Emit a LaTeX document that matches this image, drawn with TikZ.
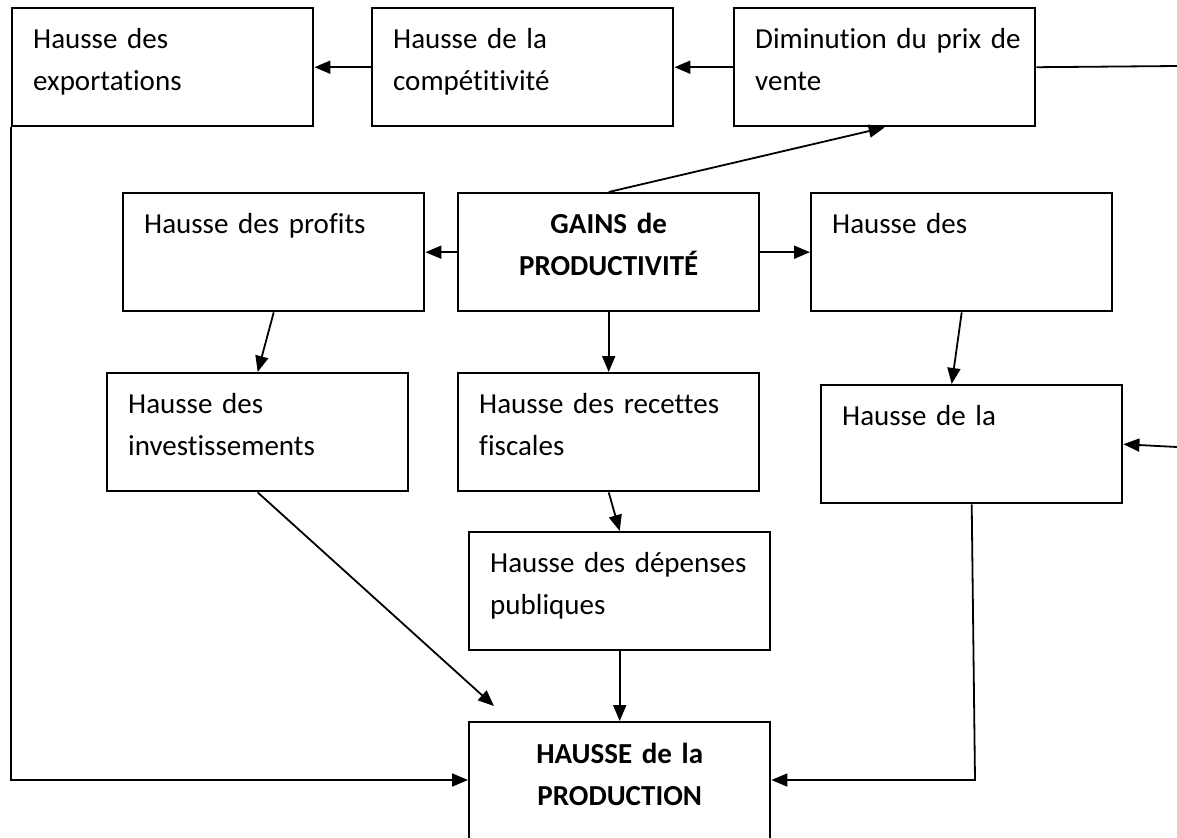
\documentclass[tikz,border=0pt]{standalone}
\usepackage{fontspec}
\setmainfont{Carlito}[Ligatures=NoCommon]
\usetikzlibrary{arrows.meta}

\begin{document}
\begin{tikzpicture}[x=0.5pt,y=-0.5pt,>={Triangle[length=8pt,width=6.5pt]},
  font=\fontsize{14.5pt}{21pt}\selectfont,
  boite/.style={draw, line width=1.2pt, anchor=north west, inner xsep=10.5pt, inner ysep=0pt,
    text width=129.5pt, align=left, text height=20pt, text depth=39pt},
  fort/.style={boite, align=center, font=\fontsize{14.5pt}{21pt}\selectfont\bfseries},
  fleche/.style={->, line width=0.9pt}]
  \useasboundingbox (0,0) rectangle (1177,837);

  \coordinate (boutD) at (1177,66);
  \coordinate (boutH) at (1177,447);
  \coordinate (pointeP) at (494,706);
  \coordinate (coinH) at (975,780);

  \node[boite] (export) at (11,7) {Hausse des\\exportations};
  \node[boite] (compet) at (371,7) {Hausse de la\\compétitivité};
  \node[boite] (prix) at (733,7) {\mbox{Diminution du prix de}\\vente};

  \node[boite] (profits) at (122,192) {Hausse des profits};
  \node[fort] (gains) at (457,192) {GAINS de\\PRODUCTIVITÉ};
  \node[boite] (salaires) at (810,192) {Hausse des};

  \node[boite] (invest) at (106,372) {Hausse des\\investissements};
  \node[boite] (recettes) at (457,372) {\mbox{Hausse des recettes}\\fiscales};
  \node[boite] (conso) at (820,384) {Hausse de la};
  \node[boite] (depenses) at (468,531) {\mbox{Hausse des dépenses}\\publiques};

  \node[fort, text height=20.5pt, text depth=80pt] (prod) at (468,721) {HAUSSE de la\\PRODUCTION};

  \draw[fleche] (compet.west) -- (export.east);
  \draw[fleche] (prix.west) -- (compet.east);
  \draw[line width=0.9pt] (prix.east) -- (boutD);
  \draw[fleche] (gains.north) -- (prix.south);
  \draw[fleche] (gains.west) -- (profits.east);
  \draw[fleche] (gains.east) -- (salaires.west);
  \draw[fleche] (gains.south) -- (recettes.north);
  \draw[fleche] (profits.south) -- (invest.north);
  \draw[fleche] (salaires.south) -- ([xshift=-10pt]conso.north);
  \draw[fleche] (boutH) -- (conso.east);
  \draw[fleche] (invest.south) -- (pointeP);
  \draw[fleche] (recettes.south) -- (depenses.north);
  \draw[fleche] (depenses.south) -- (prod.north);
  \draw[fleche] (export.south west) |- ([yshift=-29.5pt]prod.north west);
  \draw[fleche] (conso.south) -- (coinH) -- ([yshift=-29.5pt]prod.north east);
\end{tikzpicture}
\end{document}
